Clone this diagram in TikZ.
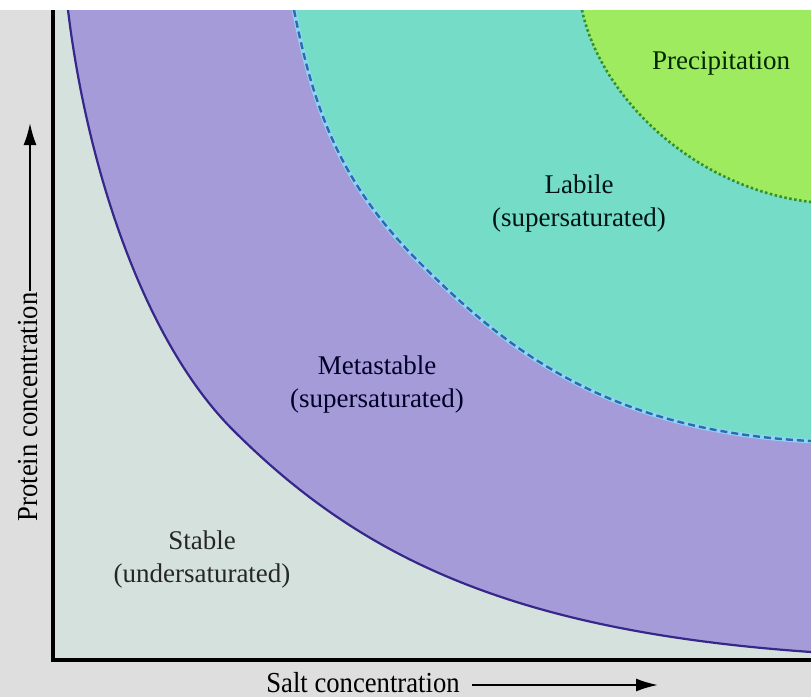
\documentclass[tikz,border=0pt]{standalone}
\usepackage{fontspec}
\setmainfont{Liberation Serif}
\newfontfamily\axisfont[FakeStretch=0.92]{Liberation Serif}
\usetikzlibrary{arrows.meta}
\definecolor{bggray}{HTML}{DEDEDE}
\definecolor{stablec}{HTML}{D5E1DC}
\definecolor{metac}{HTML}{A69BD9}
\definecolor{labilec}{HTML}{74DCC7}
\definecolor{precc}{HTML}{9EEB5F}
\definecolor{solidc}{HTML}{35288A}
\definecolor{dashc}{HTML}{2F6AB0}
\definecolor{dashhalo}{HTML}{8CD6F2}
\definecolor{dotc}{HTML}{35902A}
\tikzset{
  region/.style={font=\fontsize{27}{33}\selectfont, align=center, inner sep=0pt},
  axlabel/.style={font=\axisfont\fontsize{29}{33}\selectfont, inner sep=0pt},
  axarrow/.style={line width=2pt, -{Latex[length=22pt,width=13pt]}},
}
\def\solidpath{(68,10) .. controls (86,160) and (141,338) .. (233,430) .. controls (360,557) and (511,631) .. (811,652)}
\def\dashpath{(294,10) .. controls (314,110) and (340,183) .. (420,263) .. controls (510,353) and (611,431) .. (811,441)}
\def\dotpath{(582,10) .. controls (600,95) and (691,187.6) .. (811,202)}
\begin{document}
\begin{tikzpicture}[x=1pt,y=-1pt]
\useasboundingbox (0,0) rectangle (811,697);
\fill[bggray] (0,0) rectangle (811,697);
\fill[white] (0,0) rectangle (811,10);
\begin{scope}
\clip (54,10) rectangle (811,658);
\fill[stablec] (54,10) rectangle (811,658);
\fill[metac] \solidpath -- (811,0) -- (68,0) -- cycle;
\fill[labilec] \dashpath -- (811,0) -- (294,0) -- cycle;
\fill[precc] \dotpath -- (811,0) -- (582,0) -- cycle;
\draw[solidc, line width=2.2pt] \solidpath;
\draw[dashhalo, line width=4.5pt] \dashpath;
\draw[dashc, line width=2.4pt, dash pattern=on 7pt off 4pt] \dashpath;
\draw[dotc, line width=2.6pt, dash pattern=on 2.5pt off 2.5pt] \dotpath;
\end{scope}
% axes
\coordinate (axtop) at (53,10);
\coordinate (axorigin) at (53,660);
\coordinate (axright) at (811,660);
\draw[black, line width=3.5pt] (axtop) -- (axorigin) -- (axright);
% region labels
\node[region, text=black!85!green] (prec) at (721,63) {Precipitation};
\node[region, text=black!85!teal] (labile) at (579,203) {Labile\\(supersaturated)};
\node[region, text=black!85!blue] (meta) at (377,384) {Metastable\\(supersaturated)};
\node[region, text=black!85] (stable) at (202,559) {Stable\\(undersaturated)};
% axis labels
\node[axlabel, anchor=base] (xlab) at (363,692) {Salt concentration};
\node[axlabel, anchor=base, rotate=90] (ylab) at (37,407) {Protein concentration};
\coordinate (xs) at (472,685);
\coordinate (xe) at (658,685);
\coordinate (ys) at (30,291);
\coordinate (ye) at (30,123);
\draw[axarrow] (xs) -- (xe);
\draw[axarrow] (ys) -- (ye);
\end{tikzpicture}
\end{document}
